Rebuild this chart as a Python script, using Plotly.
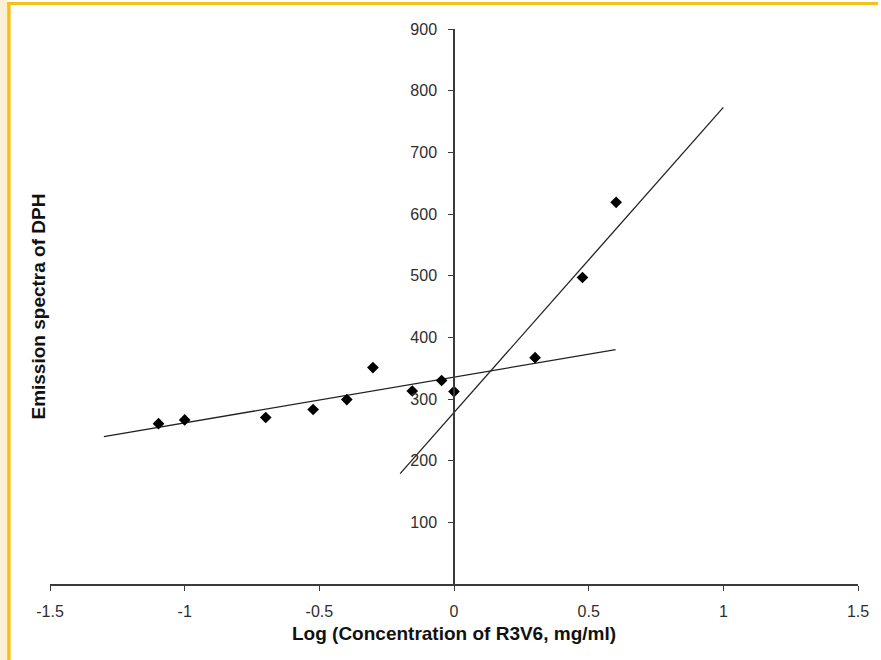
import plotly.graph_objects as go

# Measured emission of DPH against log concentration of R3V6
log_conc = [-1.097, -1.0, -0.699, -0.523, -0.398, -0.301, -0.155, -0.046, 0.0, 0.301, 0.477, 0.602]
emission = [260, 266, 270, 283, 299, 351, 313, 330, 312, 367, 497, 619]

# Two fitted trend lines (start / end points)
fit_low_x = [-1.3, 0.6]
fit_low_y = [239, 380]
fit_high_x = [-0.2, 1.0]
fit_high_y = [179, 773]

x_ticks = [-1.5, -1, -0.5, 0, 0.5, 1, 1.5]
x_tick_text = ["-1.5", "-1", "-0.5", "0", "0.5", "1", "1.5"]
y_ticks = [100, 200, 300, 400, 500, 600, 700, 800, 900]

W, H = 881, 660
L, R, T, B = 50, 20, 29, 76

line_col = "#3a3a3a"
text_col = "#2e2e2e"

fig = go.Figure()
fig.add_trace(go.Scatter(x=fit_low_x, y=fit_low_y, mode="lines",
                         line=dict(color="#222222", width=1.3), showlegend=False))
fig.add_trace(go.Scatter(x=fit_high_x, y=fit_high_y, mode="lines",
                         line=dict(color="#222222", width=1.3), showlegend=False))
fig.add_trace(go.Scatter(x=log_conc, y=emission, mode="markers",
                         marker=dict(symbol="diamond", size=9, color="black"),
                         showlegend=False))


def px_x(p):
    return (p - L) / (W - L - R)


def px_y(p):
    return (H - B - p) / (H - T - B)


# Page frame: cream strip and gold rule on the left, gold rule along the top
shapes = [
    dict(type="rect", xref="paper", yref="paper", x0=px_x(0), x1=px_x(7),
         y0=px_y(H), y1=px_y(0), fillcolor="#fcefd2", line_width=0),
    dict(type="rect", xref="paper", yref="paper", x0=px_x(7), x1=px_x(10.5),
         y0=px_y(H), y1=px_y(2), fillcolor="#f5c118", line_width=0),
    dict(type="rect", xref="paper", yref="paper", x0=px_x(7), x1=px_x(W),
         y0=px_y(5), y1=px_y(2), fillcolor="#f5c118", line_width=0),
]

tick_font = dict(size=16, color=text_col)

fig.update_layout(
    width=W, height=H,
    margin=dict(l=L, r=R, t=T, b=B),
    paper_bgcolor="white", plot_bgcolor="white",
    font=dict(family="Liberation Sans, Arial, sans-serif", color=text_col, size=16),
    shapes=shapes,
    xaxis=dict(
        range=[-1.5, 1.5], tickvals=x_ticks, ticktext=x_tick_text,
        showline=True, linecolor=line_col, linewidth=1.5,
        ticks="outside", ticklen=5, tickcolor=line_col, tickwidth=1.2,
        tickfont=tick_font, ticklabelstandoff=7,
        showgrid=False, zeroline=False,
        title=dict(text="<b>Log (Concentration of R3V6, mg/ml)</b>",
                   font=dict(size=19, color="#111111"), standoff=8),
    ),
    yaxis=dict(
        range=[0, 900], tickvals=y_ticks,
        anchor="free", position=0.5,
        showline=True, linecolor=line_col, linewidth=1.5,
        ticks="outside", ticklen=5, tickcolor=line_col, tickwidth=1.2,
        tickfont=tick_font, ticklabelstandoff=8,
        showgrid=False, zeroline=False,
    ),
    annotations=[dict(
        text="<b>Emission spectra of DPH</b>", textangle=-90,
        xref="paper", yref="paper", x=px_x(38), y=0.5,
        showarrow=False, font=dict(size=19, color="#111111"),
        xanchor="center", yanchor="middle",
    )],
)

fig.write_html("out.html")
